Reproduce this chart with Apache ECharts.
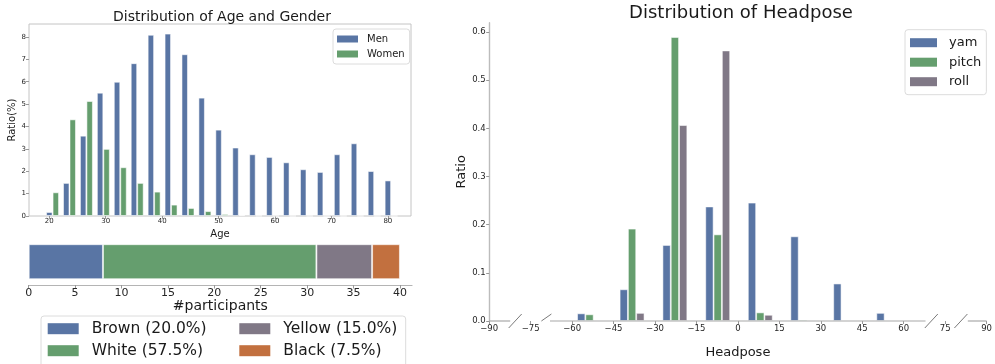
<!DOCTYPE html>
<html><head><meta charset="utf-8">
<script src="https://cdn.jsdelivr.net/npm/echarts@6/dist/echarts.min.js"></script>
<style>html,body{margin:0;padding:0;background:#fff}#c{width:995px;height:364px}</style>
</head><body><div id="c"></div>
<script>
// ---- Age & gender ----
const ages = [20,23,26,29,32,35,38,41,44,47,50,53,56,59,62,65,68,71,74,77,80];
const menRatio = [0.18,1.48,3.59,5.51,6.0,6.83,8.1,8.15,7.23,5.29,3.86,3.06,2.76,2.64,2.4,2.09,1.97,2.76,3.25,2.01,1.59];
const womenRatio = [1.06,4.32,5.14,3.0,2.18,1.48,1.09,0.51,0.36,0.22,0.09,0.04,0.01,0,0,0,0,0,0,0,0];
const ageTicks = [20,30,40,50,60,70,80];
const ratioTicks = [0,1,2,3,4,5,6,7,8];
// ---- Participants ----
const ethnicities = ['Brown','White','Yellow','Black'];
const participants = [8,23,6,3];
const participantTicks = [0,5,10,15,20,25,30,35,40];
// ---- Headpose ----
const headposeBins = [-72.2,-56.7,-41.3,-25.8,-10.3,5.1,20.5,36.0,51.6,67.0];
const yam   = [0,0.016,0.066,0.158,0.238,0.246,0.176,0.078,0.017,0.002];
const pitch = [0.002,0.014,0.192,0.59,0.18,0.018,0.003,0,0,0];
const roll  = [0,0.002,0.017,0.407,0.562,0.013,0.001,0,0,0];
const headposeTicks = [-90,-75,-60,-45,-30,-15,0,15,30,45,60,75,90];
const headRatioTicks = [0,0.1,0.2,0.3,0.4,0.5,0.6];

const FF = 'DejaVu Sans';
const TXT = '#1a1a1a';
const C = {blue:'#5975a4', green:'#659e6e', grey:'#807886', orange:'#c2703f'};
const raceColors = [C.blue, C.green, C.grey, C.orange];
const edge = {borderColor:'rgba(255,255,255,0.55)', borderWidth:1};

const total = participants.reduce((a,b)=>a+b,0);
const raceNames = ethnicities.map((e,i)=> e + ' (' + (participants[i]/total*100).toFixed(1) + '%)');

const ageOffset = 1.15, ageBarPx = 6.5;
const headStep = 3, headBarPx = 8.4;

const chart = echarts.init(document.getElementById('c'), null, {renderer:'canvas'});

const axisLbl = (size, margin, fmt) => ({fontFamily:FF, fontSize:size, color:'#262626', margin:margin, formatter:fmt});
const minus = v => (v < 0 ? '\u2212' + Math.abs(v) : String(v));

const breakSegs = [[-90,-82.4],[-68,67.9],[83.2,90]];
const breakMarks = [-80.6,-69.3,70,80.7];

const series = [
  {name:'Men', type:'bar', xAxisIndex:0, yAxisIndex:0, barWidth:ageBarPx, barGap:'-100%',
   itemStyle:Object.assign({color:C.blue}, edge),
   data: ages.map((a,i)=>[a, menRatio[i]])},
  {name:'Women', type:'bar', xAxisIndex:0, yAxisIndex:0, barWidth:ageBarPx, barGap:'-100%',
   itemStyle:Object.assign({color:C.green}, edge),
   data: ages.map((a,i)=>[a+ageOffset, womenRatio[i]])},
];
raceNames.forEach((n,i)=>{
  series.push({name:n, type:'bar', stack:'race', xAxisIndex:1, yAxisIndex:1, barWidth:35,
    itemStyle:Object.assign({color:raceColors[i]}, edge), data:[participants[i]]});
});
[['yam',yam,C.blue,0],['pitch',pitch,C.green,1],['roll',roll,C.grey,2]].forEach(([n,arr,col,k])=>{
  series.push({name:n, type:'bar', xAxisIndex:2, yAxisIndex:2, barWidth:headBarPx, barGap:'-100%',
    itemStyle:Object.assign({color:col}, edge),
    data: headposeBins.map((b,i)=>[b + k*headStep, arr[i]])});
});
series.push({type:'custom', xAxisIndex:2, yAxisIndex:2, silent:true, clip:false, z:5, data:[[0,0]],
  renderItem:(params, api)=>{
    const children = [];
    breakSegs.forEach(s=>{
      const a = api.coord([s[0],0]), b = api.coord([s[1],0]);
      children.push({type:'line', shape:{x1:a[0],y1:a[1],x2:b[0],y2:b[1]}, style:{stroke:'#a8a8a8', lineWidth:1.2}});
    });
    breakMarks.forEach((m,i)=>{
      const p = api.coord([m,0]);
      const shape = i===1 ? {x1:p[0]-5,y1:p[1],x2:p[0]+5,y2:p[1]-7}
                          : {x1:p[0]-6.5,y1:p[1]+7,x2:p[0]+6.5,y2:p[1]-7};
      children.push({type:'line', shape, style:{stroke:'#7a7a7a', lineWidth:1}});
    });
    return {type:'group', children};
  }});

const legendBase = {icon:'rect', itemStyle:{borderWidth:0}, selectedMode:false};

chart.setOption({
  animation:false,
  backgroundColor:'#fff',
  title:[
    {text:'Distribution of Age and Gender', left:222, top:10, textAlign:'center', padding:0,
     textStyle:{fontFamily:FF, fontSize:14, fontWeight:'normal', color:TXT}},
    {text:'Distribution of Headpose', left:741, top:4, textAlign:'center', padding:0,
     textStyle:{fontFamily:FF, fontSize:18, fontWeight:'normal', color:TXT}}
  ],
  legend:[
    Object.assign({}, legendBase, {data:['Men','Women'], orient:'vertical', left:333, top:29,
      padding:[4.5,5,4.5,4], itemWidth:21, itemHeight:7, itemGap:4,
      backgroundColor:'rgba(255,255,255,0.85)', borderColor:'#dcdcdc', borderWidth:1, borderRadius:3,
      textStyle:{fontFamily:FF, fontSize:10, color:TXT, lineHeight:11, padding:[0,0,0,4]}}),
    Object.assign({}, legendBase, {data:['yam','pitch','roll'], orient:'vertical', left:905, top:29.7,
      padding:[5.5,5,5.5,5], itemWidth:27, itemHeight:9, itemGap:4.5,
      backgroundColor:'rgba(255,255,255,0.85)', borderColor:'#dcdcdc', borderWidth:1, borderRadius:3,
      textStyle:{fontFamily:FF, fontSize:13, color:TXT, lineHeight:15, padding:[0,0,0,7]}}),
    Object.assign({}, legendBase, {data:[raceNames[0], raceNames[1]], orient:'vertical', left:47.7, top:319.7,
      padding:0, itemWidth:31, itemHeight:11, itemGap:4, z:5,
      textStyle:{fontFamily:FF, fontSize:15.5, color:TXT, lineHeight:18, padding:[0,0,0,8]}}),
    Object.assign({}, legendBase, {data:[raceNames[2], raceNames[3]], orient:'vertical', left:239.3, top:319.7,
      padding:0, itemWidth:31, itemHeight:11, itemGap:4, z:5,
      textStyle:{fontFamily:FF, fontSize:15.5, color:TXT, lineHeight:18, padding:[0,0,0,8]}})
  ],
  graphic:[{type:'rect', z:1, shape:{x:41, y:316, width:364.7, height:70, r:3},
    style:{fill:'#fff', stroke:'#dcdcdc', lineWidth:1}}],
  grid:[
    {left:29, top:24, width:382, height:192, show:true, borderColor:'#c4c4c4', borderWidth:1, backgroundColor:'transparent'},
    {left:28.7, top:238.4, width:383.3, height:46.6},
    {left:489.2, top:22.7, width:504.9, height:301.3}
  ],
  xAxis:[
    {gridIndex:0, type:'value', min:16.4, max:84.1, splitLine:{show:false}, axisLine:{show:false, onZero:false},
     axisTick:{show:true, length:3, lineStyle:{color:'#999'}, customValues:ageTicks},
     axisLabel:Object.assign(axisLbl(7,2), {customValues:ageTicks}),
     name:'Age', nameLocation:'middle', nameGap:11, nameTextStyle:{fontFamily:FF, fontSize:10, color:TXT}},
    {gridIndex:1, type:'value', min:0, max:41.3, splitLine:{show:false},
     axisLine:{show:true, onZero:false, lineStyle:{color:'#b4b4b4', width:1.2}},
     axisTick:{show:true, length:3.5, lineStyle:{color:'#999'}, customValues:participantTicks},
     axisLabel:Object.assign(axisLbl(11,2.5), {customValues:participantTicks}),
     name:'#participants', nameLocation:'middle', nameGap:14, nameTextStyle:{fontFamily:FF, fontSize:14, color:TXT}},
    {gridIndex:2, type:'value', min:-90, max:90, splitLine:{show:false}, axisLine:{show:false, onZero:false},
     axisTick:{show:true, length:3, lineStyle:{color:'#999'}, customValues:headposeTicks},
     axisLabel:Object.assign(axisLbl(8.5,3.5,minus), {customValues:headposeTicks}),
     name:'Headpose', nameLocation:'middle', nameGap:25, nameTextStyle:{fontFamily:FF, fontSize:13, color:TXT}}
  ],
  yAxis:[
    {gridIndex:0, type:'value', min:0, max:8.58, splitLine:{show:false}, axisLine:{show:false, onZero:false},
     axisTick:{show:true, length:3, lineStyle:{color:'#999'}, customValues:ratioTicks},
     axisLabel:Object.assign(axisLbl(7,3), {customValues:ratioTicks}),
     name:'Ratio(%)', nameLocation:'middle', nameGap:8, nameTextStyle:{fontFamily:FF, fontSize:10, color:TXT}},
    {gridIndex:1, type:'category', data:['participants'], show:false},
    {gridIndex:2, type:'value', min:0, max:0.6195, splitLine:{show:false},
     axisLine:{show:true, onZero:false, lineStyle:{color:'#bcbcbc', width:1.4}},
     axisTick:{show:true, length:3, lineStyle:{color:'#999'}, customValues:headRatioTicks},
     axisLabel:Object.assign(axisLbl(8.5,3.5, v=>v.toFixed(1)), {customValues:headRatioTicks}),
     name:'Ratio', nameLocation:'middle', nameGap:20, nameTextStyle:{fontFamily:FF, fontSize:13, color:TXT}}
  ],
  series: series
});
</script>
</body></html>
